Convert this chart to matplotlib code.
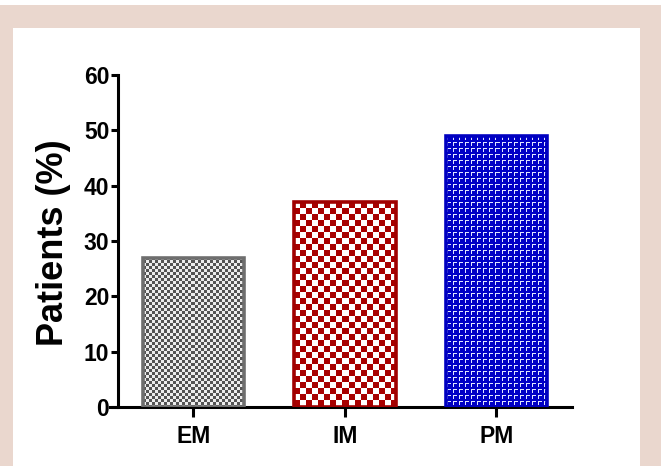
import numpy as np
import matplotlib.pyplot as plt
from matplotlib.patches import Rectangle

plt.rcParams['font.family'] = ['Liberation Sans', 'DejaVu Sans']

groups = ['EM', 'IM', 'PM']
patients = [27, 37, 49]
edge_colors = ['#6e6e6e', '#a00000', '#0000c0']

W, H = 661, 466
fig = plt.figure(figsize=(W / 100, H / 100), dpi=100)
fig.patch.set_facecolor('white')

# pink frame around a white panel
fig.patches.append(Rectangle((0, 0), 1, (H - 5) / H, transform=fig.transFigure,
                             facecolor='#ead7ce', edgecolor='none', zorder=-10))
fig.patches.append(Rectangle((13 / W, 0), (640 - 13) / W, (H - 28) / H,
                             transform=fig.transFigure, facecolor='white',
                             edgecolor='none', zorder=-9))

ax = fig.add_axes([110 / W, (H - 407) / H, (572 - 110) / W, (407 - 75) / H])
ax.set_facecolor('none')
ax.set_xlim(-0.55, 2.5)
ax.set_ylim(0, 60)

x = np.arange(len(groups))
bars = ax.bar(x, patients, width=0.67, facecolor='none',
              edgecolor=edge_colors, linewidth=2.6, zorder=3)


def checker(h, w, cell, dark, light):
    yy, xx = np.mgrid[0:h, 0:w]
    m = ((yy // cell + xx // cell) % 2).astype(bool)
    img = np.empty((h, w, 3))
    img[:] = light
    img[m] = dark
    return img


def blue_tile(h, w):
    tile = np.array([[0, 0, 0, 0, 0, 0],
                     [0, 1, 1, 1, 1, 0],
                     [0, 1, 0, 0, 0, 0],
                     [0, 1, 0, 0, 0, 0],
                     [0, 1, 0, 0, 0, 0],
                     [0, 0, 0, 0, 0, 0]], dtype=bool)
    m = np.tile(tile, (h // 6 + 1, w // 6 + 1))[:h, :w]
    img = np.empty((h, w, 3))
    img[:] = (0.0, 0.0, 0.78)
    img[m] = (0.88, 0.9, 1.0)
    return img


fig.canvas.draw()
to_px = ax.transData
for i, b in enumerate(bars):
    x0, y0 = b.get_x(), b.get_y()
    x1, y1 = x0 + b.get_width(), y0 + b.get_height()
    p0 = to_px.transform((x0, y0))
    p1 = to_px.transform((x1, y1))
    pw, ph = int(round(p1[0] - p0[0])), int(round(p1[1] - p0[1]))
    if i == 0:
        img = checker(ph, pw, 3, (0.33, 0.33, 0.33), (0.93, 0.93, 0.93))
    elif i == 1:
        img = checker(ph, pw, 6, (0.66, 0.0, 0.0), (1.0, 1.0, 1.0))
    else:
        img = blue_tile(ph, pw)
    im = ax.imshow(img, extent=(x0, x1, y0, y1), origin='upper',
                   interpolation='nearest', aspect='auto', zorder=2)
    im.set_clip_path(b)

ax.set_xlim(-0.55, 2.5)
ax.set_ylim(0, 60)

for s in ['top', 'right']:
    ax.spines[s].set_visible(False)
ax.spines['left'].set_position(('data', -0.5))
ax.spines['left'].set_linewidth(2.2)
ax.spines['bottom'].set_linewidth(2.2)

ax.set_yticks(np.arange(0, 61, 10))
ax.set_xticks(x)
ax.set_xticklabels(groups)
ax.tick_params(axis='y', length=5, width=2.2, pad=1, labelsize=16.5)
ax.tick_params(axis='x', length=7, width=2.2, pad=6, labelsize=16.5)
for lab in ax.get_xticklabels() + ax.get_yticklabels():
    lab.set_fontweight('bold')

fig.text(54 / W, 1 - 243 / H, 'Patients (%)', rotation=90, ha='center',
         va='center', fontsize=26, fontweight='bold')

fig.savefig('out.png', dpi=100, facecolor='white')
